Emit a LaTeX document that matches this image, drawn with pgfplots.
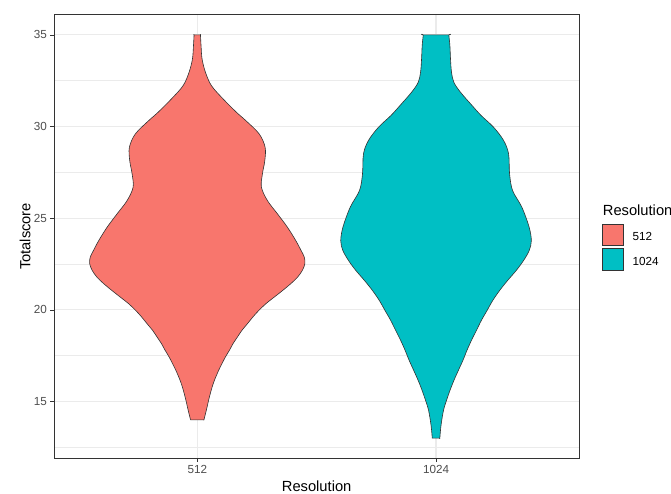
\documentclass[border=0pt]{standalone}
\usepackage{pgfplots}
\pgfplotsset{compat=1.18}
\usepackage{pgfplotstable}
\usepackage{fontspec}
\setmainfont{Liberation Sans}
\definecolor{cA}{HTML}{F8766D}
\definecolor{cB}{HTML}{00BFC4}
\definecolor{gtwenty}{HTML}{333333}
\definecolor{gthirty}{HTML}{4D4D4D}
\definecolor{gridc}{HTML}{EBEBEB}

% Violin outline for Resolution 512: side s (-1 left, +1 right), value v, half-width hw (x units)
\pgfplotstableread{
s v hw
-1 14.00 0.0280
-1 14.52 0.0380
-1 15.25 0.0510
-1 15.98 0.0670
-1 16.71 0.0900
-1 17.43 0.1180
-1 17.80 0.1350
-1 18.16 0.1500
-1 18.51 0.1680
-1 18.88 0.1870
-1 19.24 0.2100
-1 19.61 0.2330
-1 19.97 0.2580
-1 20.34 0.2880
-1 20.69 0.3220
-1 21.06 0.3580
-1 21.43 0.3920
-1 21.78 0.4200
-1 22.15 0.4400
-1 22.51 0.4505
-1 22.87 0.4484
-1 23.24 0.4346
-1 23.78 0.4125
-1 24.51 0.3774
-1 25.24 0.3356
-1 25.96 0.2938
-1 26.69 0.2687
-1 27.42 0.2729
-1 28.14 0.2829
-1 28.87 0.2842
-1 29.60 0.2591
-1 30.32 0.2035
-1 30.78 0.1638
-1 31.51 0.1078
-1 32.23 0.0593
-1 32.96 0.0343
-1 33.69 0.0201
-1 34.41 0.0159
-1 35.00 0.0134
-1 35.00 0.0134
1 35.00 0.0134
1 35.00 0.0134
1 34.41 0.0159
1 33.69 0.0201
1 32.96 0.0343
1 32.23 0.0593
1 31.51 0.1078
1 30.78 0.1638
1 30.32 0.2035
1 29.60 0.2591
1 28.87 0.2842
1 28.14 0.2829
1 27.42 0.2729
1 26.69 0.2687
1 25.96 0.2938
1 25.24 0.3356
1 24.51 0.3774
1 23.78 0.4125
1 23.24 0.4346
1 22.87 0.4484
1 22.51 0.4505
1 22.15 0.4400
1 21.78 0.4200
1 21.43 0.3920
1 21.06 0.3580
1 20.69 0.3220
1 20.34 0.2880
1 19.97 0.2580
1 19.61 0.2330
1 19.24 0.2100
1 18.88 0.1870
1 18.51 0.1680
1 18.16 0.1500
1 17.80 0.1350
1 17.43 0.1180
1 16.71 0.0900
1 15.98 0.0670
1 15.25 0.0510
1 14.52 0.0380
1 14.00 0.0280
1 14.00 0.0280
}\vA

% Violin outline for Resolution 1024
\pgfplotstableread{
s v hw
-1 13.00 0.0159
-1 13.70 0.0209
-1 14.52 0.0313
-1 15.06 0.0439
-1 15.61 0.0585
-1 16.16 0.0752
-1 16.71 0.0940
-1 17.25 0.1128
-1 17.79 0.1295
-1 18.34 0.1484
-1 18.88 0.1692
-1 19.43 0.1901
-1 19.95 0.2131
-1 20.50 0.2370
-1 21.05 0.2660
-1 21.59 0.2990
-1 22.15 0.3360
-1 22.68 0.3660
-1 23.23 0.3900
-1 23.77 0.3991
-1 24.51 0.3899
-1 25.60 0.3594
-1 26.51 0.3205
-1 27.42 0.3080
-1 28.51 0.3038
-1 29.24 0.2829
-1 29.96 0.2411
-1 30.60 0.1889
-1 31.14 0.1513
-1 31.87 0.1024
-1 32.41 0.0748
-1 32.96 0.0648
-1 33.69 0.0606
-1 34.41 0.0581
-1 35.00 0.0535
-1 35.00 0.0535
1 35.00 0.0535
1 35.00 0.0535
1 34.41 0.0581
1 33.69 0.0606
1 32.96 0.0648
1 32.41 0.0748
1 31.87 0.1024
1 31.14 0.1513
1 30.60 0.1889
1 29.96 0.2411
1 29.24 0.2829
1 28.51 0.3038
1 27.42 0.3080
1 26.51 0.3205
1 25.60 0.3594
1 24.51 0.3899
1 23.77 0.3991
1 23.23 0.3900
1 22.68 0.3660
1 22.15 0.3360
1 21.59 0.2990
1 21.05 0.2660
1 20.50 0.2370
1 19.95 0.2131
1 19.43 0.1901
1 18.88 0.1692
1 18.34 0.1484
1 17.79 0.1295
1 17.25 0.1128
1 16.71 0.0940
1 16.16 0.0752
1 15.61 0.0585
1 15.06 0.0439
1 14.52 0.0313
1 13.70 0.0209
1 13.00 0.0159
1 13.00 0.0159
}\vB

\begin{document}
\begin{tikzpicture}
\path[use as bounding box] (0,0) rectangle (671bp,494bp);
\begin{axis}[
  at={(54bp,35.7bp)}, anchor=south west,
  scale only axis, width=525.3bp, height=443.6bp,
  xmin=0.4, xmax=2.6, ymin=11.9, ymax=36.1,
  xtick={1,2}, xticklabels={512,1024},
  ytick={15,20,25,30,35},
  minor ytick={12.5,17.5,22.5,27.5,32.5},
  xmajorgrids, ymajorgrids, yminorgrids,
  major grid style={gridc, line width=1.1bp},
  minor grid style={gridc, line width=0.55bp},
  tick pos=left, tick align=outside,
  major tick length=3.7bp, minor tick length=0pt,
  tick style={gtwenty, line width=0.55bp},
  axis line style={gtwenty, line width=0.55bp},
  ticklabel style={font=\fontsize{11.7bp}{13bp}\selectfont, text=gthirty},
  /pgf/number format/assume math mode=true,
  xlabel={Resolution}, ylabel={Totalscore},
  label style={font=\fontsize{14.7bp}{16bp}\selectfont},
  xlabel style={at={(axis description cs:0.5,-0.0745)}, anchor=base},
  ylabel style={at={(axis description cs:-0.0552,0.5)}, anchor=center},
]
\addplot[fill=cA, draw=gtwenty, line width=0.6bp, smooth, tension=0.55]
  table[x expr=1+\thisrow{s}*\thisrow{hw}, y=v] {\vA} -- cycle;
\addplot[fill=cB, draw=gtwenty, line width=0.6bp, smooth, tension=0.55]
  table[x expr=2+\thisrow{s}*\thisrow{hw}, y=v] {\vB} -- cycle;
\end{axis}
% legend
\node[anchor=base west, inner sep=0, font=\fontsize{14.7bp}{16bp}\selectfont] at (602.7bp,278.7bp) {Resolution};
\filldraw[fill=cA, draw=gtwenty, line width=0.55bp] (602bp,248.3bp) rectangle (623.3bp,269.7bp);
\filldraw[fill=cB, draw=gtwenty, line width=0.55bp] (602bp,224bp) rectangle (623.3bp,245.7bp);
\node[anchor=base west, inner sep=0, font=\fontsize{11.7bp}{13bp}\selectfont] at (632.3bp,253bp) {512};
\node[anchor=base west, inner sep=0, font=\fontsize{11.7bp}{13bp}\selectfont] at (632.3bp,228.8bp) {1024};
\end{tikzpicture}
\end{document}
